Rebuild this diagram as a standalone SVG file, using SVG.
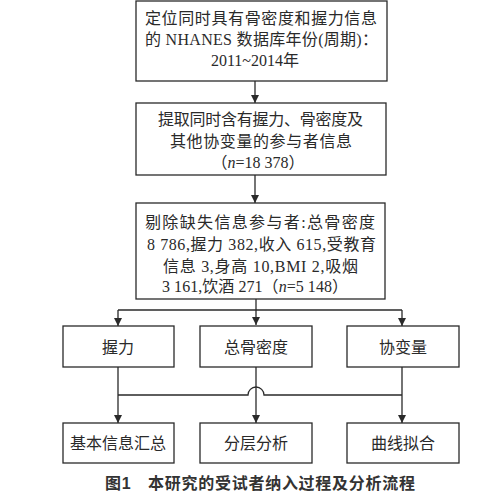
<svg xmlns="http://www.w3.org/2000/svg" width="500" height="502" viewBox="0 0 500 502">
<defs>
<marker id="ah" viewBox="0 0 10 10" refX="10" refY="5" markerWidth="8" markerHeight="8" markerUnits="userSpaceOnUse" orient="auto">
<path d="M0,0 L10,5 L0,10 z" fill="#2a2a2a"/>
</marker>
<style>
.box{fill:#fff;stroke:#2a2a2a;stroke-width:1.3}
.t{font-family:"Liberation Serif","Noto Sans CJK SC",serif;font-size:16px;fill:#2a2a2a;text-anchor:middle}
.ln{fill:none;stroke:#2a2a2a;stroke-width:1.3}
.cap{font-family:"Liberation Sans","Noto Sans CJK SC",sans-serif;font-size:16px;font-weight:bold;fill:#333;text-anchor:middle}
</style>
</defs>
<rect width="500" height="502" fill="#fff"/>
<g id="connectors">
<path class="ln" d="M255,81 V103" marker-end="url(#ah)"/>
<path class="ln" d="M255,175 V203" marker-end="url(#ah)"/>
<path class="ln" d="M256,299 V325" marker-end="url(#ah)"/>
<path class="ln" d="M118,310 H402"/>
<path class="ln" d="M118,310 V326" marker-end="url(#ah)"/>
<path class="ln" d="M402,310 V326" marker-end="url(#ah)"/>
<path class="ln" d="M118,367 V395 M402,367 V395"/>
<path class="ln" d="M118,395 H248 A8,8 0 0 1 264,395 H402"/>
<path class="ln" d="M118,395 V423" marker-end="url(#ah)"/>
<path class="ln" d="M402,395 V423" marker-end="url(#ah)"/>
<path class="ln" d="M256,367 V423" marker-end="url(#ah)"/>
</g>
<g id="n1">
<rect class="box" x="136" y="1" width="251" height="80"/>
<text class="t" x="261" y="24" font-size="16.5" textLength="232" lengthAdjust="spacing">定位同时具有骨密度和握力信息</text>
<text class="t" x="261.5" y="45" font-size="16.5" textLength="233" lengthAdjust="spacing">的 NHANES 数据库年份(周期)：</text>
<text class="t" x="255" y="66" font-size="16.5">2011~2014年</text>
</g>
<g id="n2">
<rect class="box" x="136" y="103" width="250" height="72"/>
<text class="t" x="260.5" y="125" textLength="205" lengthAdjust="spacing">提取同时含有握力、骨密度及</text>
<text class="t" x="261" y="147" textLength="182" lengthAdjust="spacing">其他协变量的参与者信息</text>
<text class="t" x="258" y="168">（<tspan font-style="italic">n</tspan>=18 378）</text>
</g>
<g id="n3">
<rect class="box" x="136" y="203" width="249" height="96"/>
<text class="t" x="260" y="228" textLength="230" lengthAdjust="spacing">剔除缺失信息参与者:总骨密度</text>
<text class="t" x="261.5" y="250" textLength="229" lengthAdjust="spacing">8 786,握力 382,收入 615,受教育</text>
<text class="t" x="260.5" y="272" textLength="195" lengthAdjust="spacing">信息 3,身高 10,BMI 2,吸烟</text>
<text class="t" x="255" y="292" textLength="186" lengthAdjust="spacing">3 161,饮酒 271（<tspan font-style="italic">n</tspan>=5 148）</text>
</g>
<g id="n4">
<rect class="box" x="63" y="326" width="111" height="41"/>
<text class="t" x="118" y="353" font-size="17">握力</text>
</g>
<g id="n5">
<rect class="box" x="200" y="326" width="112" height="41"/>
<text class="t" x="256" y="353" font-size="17">总骨密度</text>
</g>
<g id="n6">
<rect class="box" x="347" y="326" width="112" height="41"/>
<text class="t" x="403" y="353" font-size="17">协变量</text>
</g>
<g id="n7">
<rect class="box" x="63" y="423" width="111" height="40"/>
<text class="t" x="118" y="449" font-size="17">基本信息汇总</text>
</g>
<g id="n8">
<rect class="box" x="200" y="423" width="112" height="40"/>
<text class="t" x="256" y="449" font-size="17">分层分析</text>
</g>
<g id="n9">
<rect class="box" x="347" y="423" width="112" height="40"/>
<text class="t" x="403" y="449" font-size="17">曲线拟合</text>
</g>
<text class="cap" x="260" y="489" textLength="310" lengthAdjust="spacing">图1　本研究的受试者纳入过程及分析流程</text>
</svg>
